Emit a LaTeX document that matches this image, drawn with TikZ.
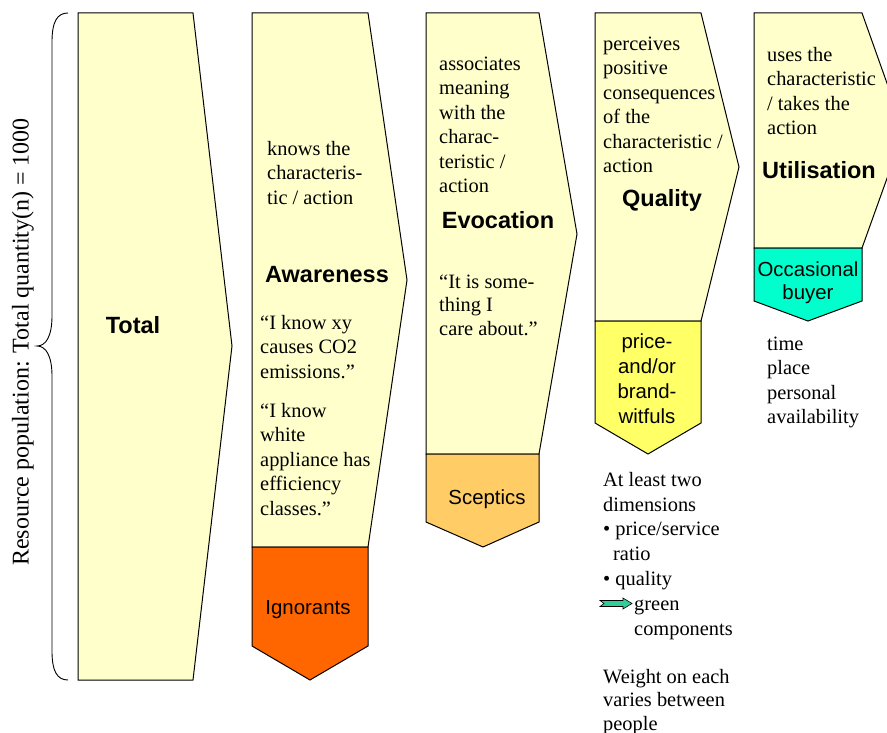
\documentclass[tikz,border=0pt]{standalone}
\usepackage{fontspec}
\setmainfont{Liberation Serif}
\setsansfont{Liberation Sans}
\definecolor{paleyellow}{HTML}{FFFFCC}
\definecolor{ignorantcol}{HTML}{FF6600}
\definecolor{scepticcol}{HTML}{FFCC66}
\definecolor{witfulcol}{HTML}{FFFF66}
\definecolor{buyercol}{HTML}{00FFCC}
\definecolor{arrowcol}{HTML}{33CC99}
\begin{document}
\begin{tikzpicture}[x=1pt,y=-1pt,
  stage/.style={draw=black, line width=1pt, fill=paleyellow, line join=miter},
  body/.style={font=\fontsize{20.4}{24.5}\selectfont, anchor=north west, inner sep=0pt, align=left, yshift=16.15pt},
  title/.style={font=\sffamily\bfseries\fontsize{23.5}{28}\selectfont, inner sep=0pt, yshift=-2pt},
  seglabel/.style={font=\sffamily\fontsize{20.4}{25}\selectfont, inner sep=0pt, align=center, yshift=-2.5pt}]
\useasboundingbox (0,0) rectangle (887,733);

% brace and its label
\draw[line width=0.9pt] (68,13) .. controls (57,13) and (52,22) .. (52,42) -- (52,316)
  .. controls (52,336) and (46,346) .. (37,346)
  .. controls (46,346) and (52,356) .. (52,376) -- (52,651)
  .. controls (52,671) and (57,680) .. (68,680);
\node[rotate=90, inner sep=0pt, font=\fontsize{24}{28}\selectfont] (poplabel) at (23,342) {Resource population: Total quantity(n) = 1000};

% Total
\path[stage] (78,13) -- (193,13) -- (232,346) -- (193,680) -- (78,680) -- cycle;
\node[title] (total) at (133,323) {Total};

% Awareness
\path[stage] (252,13) -- (368,13) -- (407,280) -- (368,547) -- (252,547) -- cycle;
\path[stage, fill=ignorantcol] (252,547) -- (368,547) -- (368,646) -- (310,680) -- (252,646) -- cycle;
\node[body] (awtext) at (267,154) {\strut knows the\\characteris-\\tic / action};
\node[title] (awareness) at (327,273) {Awareness};
\node[body] (awq1) at (260,328) {\strut “I know xy\\causes CO2\\emissions.”};
\node[body] (awq2) at (260,416) {\strut “I know\\white\\appliance has\\efficiency\\classes.”};
\node[seglabel] (ignorants) at (308,607) {Ignorants};

% Evocation
\path[stage] (426,13) -- (539,13) -- (577,234) -- (539,454) -- (426,454) -- cycle;
\path[stage, fill=scepticcol] (426,454) -- (539,454) -- (539,522) -- (483,547) -- (426,522) -- cycle;
\node[body] (evtext) at (439,69) {\strut associates\\meaning\\with the\\charac-\\teristic /\\action};
\node[title] (evocation) at (498,218) {Evocation};
\node[body, font=\fontsize{20.4}{23.5}\selectfont, yshift=-1.6pt] (evq) at (439,286) {\strut “It is some-\\thing I\\care about.”};
\node[seglabel] (sceptics) at (487,497) {Sceptics};

% Quality
\path[stage] (595,13) -- (701,13) -- (739,167) -- (701,321) -- (595,321) -- cycle;
\path[stage, fill=witfulcol] (595,321) -- (701,321) -- (701,423) -- (648,454) -- (595,423) -- cycle;
\node[body] (qutext) at (603,49) {\strut perceives\\positive\\consequences\\of the\\characteristic /\\action};
\node[title] (quality) at (662,198) {Quality};
\node[seglabel] (witfuls) at (647,376) {price-\\and/or\\brand-\\witfuls};
\node[body, font=\fontsize{20.4}{24.8}\selectfont, yshift=-0.8pt] (dims) at (603,484) {\strut At least two\\dimensions\\• price/service\\\hspace*{10pt}ratio\\• quality\\\hspace*{31pt}green\\\hspace*{31pt}components};
\node[body, font=\fontsize{20.4}{23.5}\selectfont, yshift=-1.6pt] (weight) at (603,681) {\strut Weight on each\\varies between\\people};
\draw[line width=0.6pt, fill=arrowcol, line join=miter] (600,600.5) -- (623,600.5) -- (623,598) -- (632,603.5) -- (623,609) -- (623,606.5) -- (600,606.5) -- (604,603.5) -- cycle;

% Utilisation
\path[stage] (754,13) -- (862,13) -- (904,131) -- (862,248) -- (754,248) -- cycle;
\path[stage, fill=buyercol] (754,248) -- (862,248) -- (862,301) -- (808,321) -- (754,301) -- cycle;
\node[body] (uttext) at (767,60) {\strut uses the\\characteristic\\/ takes the\\action};
\node[title] (utilisation) at (819,168) {Utilisation};
\node[seglabel, font=\sffamily\fontsize{20.4}{23}\selectfont] (buyer) at (808,280) {Occasional\\buyer};
\node[body] (uttime) at (767,349) {\strut time\\place\\personal\\availability};
\end{tikzpicture}
\end{document}
